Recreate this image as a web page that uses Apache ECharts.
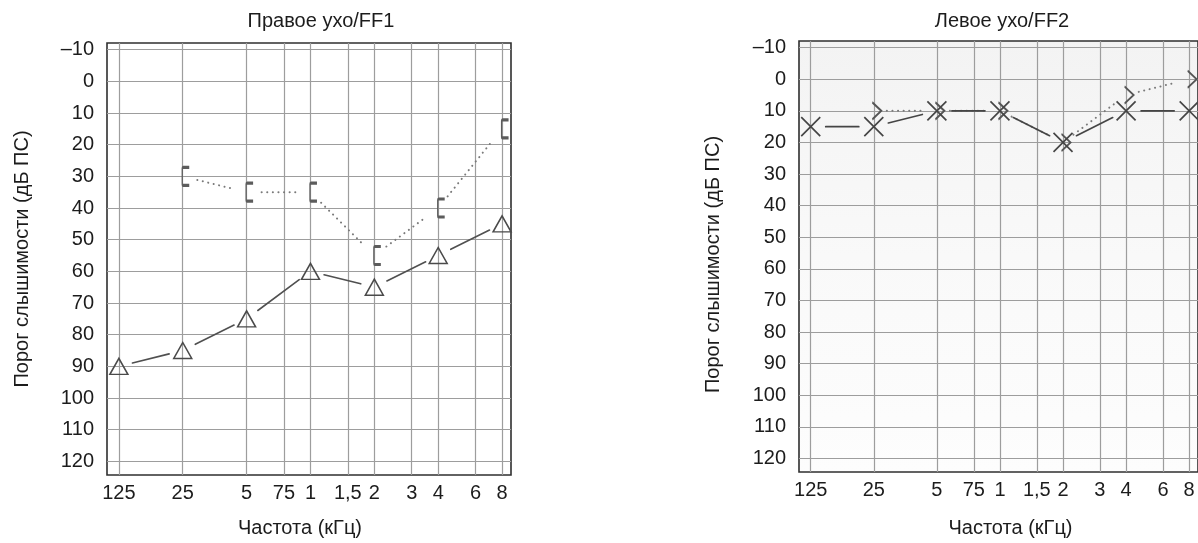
<!DOCTYPE html>
<html>
<head>
<meta charset="utf-8">
<script src="https://cdn.jsdelivr.net/npm/echarts@6/dist/echarts.min.js"></script>
<style>
  html, body { margin: 0; padding: 0; background: #fff; }
  #chart { width: 1198px; height: 543px; }
</style>
</head>
<body>
<div id="chart"></div>
<script>
// Frequency grid of the audiogram (Hz) and the labels printed under it
const FREQ_TICKS = [125, 250, 500, 750, 1000, 1500, 2000, 3000, 4000, 6000, 8000];
const FREQ_LABELS = ['125', '25', '5', '75', '1', '1,5', '2', '3', '4', '6', '8'];
// Hearing level grid (dB)
const DB_TICKS = [-10, 0, 10, 20, 30, 40, 50, 60, 70, 80, 90, 100, 110, 120];

// Right ear (FF1)
const AIR_FREQ = [125, 250, 500, 1000, 2000, 4000, 8000];
const RIGHT_AIR_MASKED = [90, 85, 75, 60, 65, 55, 45];       // triangles
const BONE_FREQ = [250, 500, 1000, 2000, 4000, 8000];
const RIGHT_BONE_MASKED = [30, 35, 35, 55, 40, 15];          // brackets

// Left ear (FF2)
const LEFT_AIR = [15, 15, 10, 10, 20, 10, 10];                // crosses
const LEFT_BONE = [10, 10, 10, 20, 5, 0];                     // ">" marks

// frequency axis is logarithmic: octaves above 125 Hz
const oct = f => Math.log2(f / 125);
const TICK_POS = FREQ_TICKS.map(oct);
const toPoints = (freqs, vals) => freqs.map((f, i) => [oct(f), vals[i]]);

const X_MIN = -0.186, X_MAX = 6.14;
const Y_MIN = -12.1, Y_MAX = 124.3;
const FONT = 'Liberation Sans';
const TEXT = '#1c1c1c';

const SYM_X = 'path://M0,0L20,20M20,0L0,20';
const SYM_BRACKET = 'path://M7,0L1,0Q0,0 0,1L0,19Q0,20 1,20L7,20';
const SYM_GT = 'path://M0,0L10,10L0,20';

function freqLabel(v) {
  let best = 0;
  TICK_POS.forEach((p, i) => { if (Math.abs(p - v) < Math.abs(TICK_POS[best] - v)) best = i; });
  return FREQ_LABELS[best];
}

function xAxis(gridIndex, nameGap, namePad) {
  return {
    type: 'value', gridIndex, min: X_MIN, max: X_MAX,
    axisLine: { show: false },
    axisTick: { show: false, customValues: TICK_POS },
    axisLabel: { customValues: TICK_POS, formatter: freqLabel, margin: 8,
                 fontSize: 20, fontFamily: FONT, color: TEXT },
    splitLine: { show: true, lineStyle: { color: '#9d9d9d', width: 1.2 } },
    name: 'Частота (кГц)', nameLocation: 'middle', nameGap,
    nameTextStyle: { fontSize: 20, fontFamily: FONT, color: TEXT, padding: namePad }
  };
}

function yAxis(gridIndex, nameGap, namePad) {
  return {
    type: 'value', gridIndex, min: Y_MIN, max: Y_MAX, inverse: true,
    axisLine: { show: false },
    axisTick: { show: false, customValues: DB_TICKS },
    axisLabel: { customValues: DB_TICKS, margin: 13,
                 formatter: v => (v < 0 ? '–' + (-v) : String(v)),
                 fontSize: 20, fontFamily: FONT, color: TEXT },
    splitLine: { show: true, lineStyle: { color: '#9d9d9d', width: 1.2 } },
    name: 'Порог слышимости (дБ ПС)', nameLocation: 'middle', nameGap,
    nameTextStyle: { fontSize: 20, fontFamily: FONT, color: TEXT, padding: namePad }
  };
}

// connecting line between neighbouring marks, pulled back from each mark
function connector(axisIdx, points, gap, stroke, lineWidth, dash) {
  return {
    type: 'custom', xAxisIndex: axisIdx, yAxisIndex: axisIdx, z: 2,
    data: points, encode: { x: 0, y: 1 }, silent: true,
    renderItem(params, api) {
      const i = params.dataIndex;
      if (i >= points.length - 1) return null;
      const a = api.coord(points[i]);
      const b = api.coord(points[i + 1]);
      const dx = b[0] - a[0], dy = b[1] - a[1];
      const len = Math.hypot(dx, dy);
      if (len <= 2 * gap) return null;
      const ux = dx / len, uy = dy / len;
      return {
        type: 'line',
        shape: { x1: a[0] + ux * gap, y1: a[1] + uy * gap, x2: b[0] - ux * gap, y2: b[1] - uy * gap },
        style: { stroke, lineWidth, lineDash: dash || null, lineCap: 'round' }
      };
    }
  };
}

function marks(axisIdx, points, symbol, size, offset, color, width) {
  return {
    type: 'scatter', xAxisIndex: axisIdx, yAxisIndex: axisIdx, z: 3, silent: true,
    data: points, symbol, symbolSize: size, symbolOffset: offset || [0, 0],
    itemStyle: { color: 'rgba(0,0,0,0)', borderColor: color, borderWidth: width, opacity: 1 }
  };
}

const rightAir = toPoints(AIR_FREQ, RIGHT_AIR_MASKED);
const rightBone = toPoints(BONE_FREQ, RIGHT_BONE_MASKED);
const leftAir = toPoints(AIR_FREQ, LEFT_AIR);
const leftBone = toPoints(BONE_FREQ, LEFT_BONE);

const chart = echarts.init(document.getElementById('chart'), null, { renderer: 'canvas' });
chart.setOption({
  animation: false,
  backgroundColor: '#ffffff',
  textStyle: { fontFamily: FONT },
  graphic: [
    { type: 'text', x: 321, y: 11, style: { text: 'Правое ухо/FF1', font: '20px "Liberation Sans"',
      fill: TEXT, textAlign: 'center', textVerticalAlign: 'top' } },
    { type: 'text', x: 1002, y: 11, style: { text: 'Левое ухо/FF2', font: '20px "Liberation Sans"',
      fill: TEXT, textAlign: 'center', textVerticalAlign: 'top' } }
  ],
  grid: [
    { left: 107, top: 43, width: 404, height: 436, show: true,
      borderColor: '#2f2f2f', borderWidth: 1.6, backgroundColor: '#ffffff' },
    { left: 799, top: 41, width: 407, height: 435, show: true,
      borderColor: '#2f2f2f', borderWidth: 1.6,
      backgroundColor: new echarts.graphic.LinearGradient(0, 0, 0, 1, [
        { offset: 0, color: '#f3f3f3' }, { offset: 0.5, color: '#f9f9f9' }, { offset: 1, color: '#fdfdfd' }
      ]) }
  ],
  xAxis: [xAxis(0, 43, [0, 18, 0, 0]), xAxis(1, 46, [0, 0, 0, 24])],
  yAxis: [yAxis(0, 75, [0, 0, 0, 0]), yAxis(1, 76, [0, 16, 0, 0])],
  series: [
    // right ear
    connector(0, rightAir, 14, '#505050', 1.6),
    connector(0, rightBone, 15, '#7a7a7a', 2, [0.1, 5.5]),
    marks(0, rightAir, 'triangle', [18, 16], [0, 0], '#4a4a4a', 1.5),
    marks(0, rightBone, SYM_BRACKET, [7, 18], [3, 0], '#5c5c5c', 2),
    // left ear
    connector(1, leftBone, 13, '#7a7a7a', 2, [0.1, 5.5]),
    connector(1, leftAir, 15, '#454545', 1.7),
    marks(1, leftBone, SYM_GT, [9, 17], [3, 0], '#555555', 1.7),
    marks(1, leftAir, SYM_X, [19, 19], [0, 0], '#454545', 1.7)
  ]
});
</script>
</body>
</html>
